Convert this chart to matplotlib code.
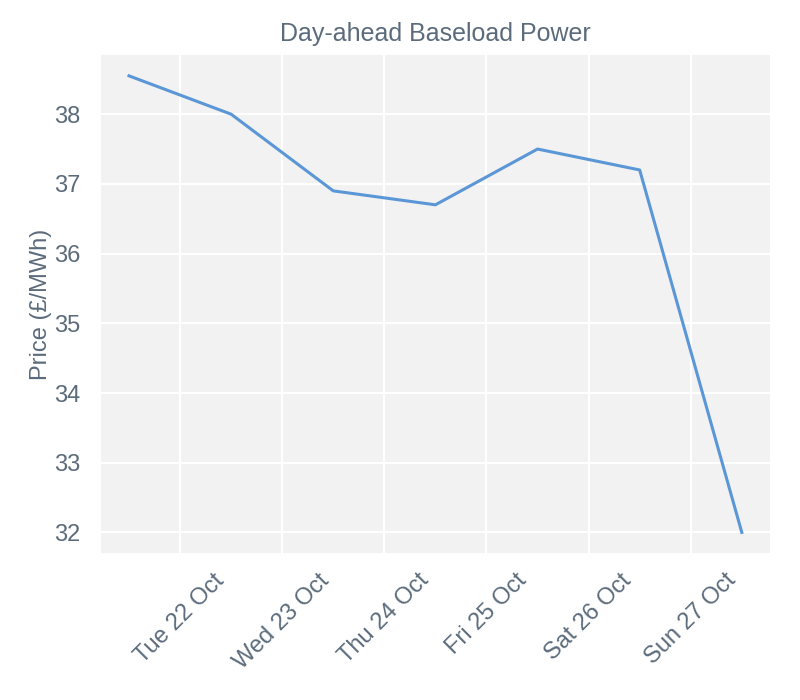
import datetime as dt
import matplotlib
matplotlib.use('Agg')
import matplotlib.pyplot as plt
import matplotlib.dates as mdates

# day-ahead prices, delivered mid-day
dates = [dt.datetime(2019, 10, d, 12) for d in range(21, 28)]
prices = [38.55, 38.0, 36.9, 36.7, 37.5, 37.2, 32.0]
tick_days = [dt.datetime(2019, 10, d) for d in range(22, 28)]

text_col = '#5b6b7b'
plt.rcParams['font.family'] = ['Liberation Sans', 'DejaVu Sans']

fig = plt.figure(figsize=(8, 7), dpi=100)
ax = fig.add_axes([0.126, 0.21, 0.8365, 0.711])
ax.set_facecolor('#f2f2f2')

ax.plot(dates, prices, color='#5b97d6', lw=2.2)
ax.margins(x=0.046, y=0.045)

ax.set_xticks(tick_days)
ax.xaxis.set_major_formatter(mdates.DateFormatter('%a %d %b'))
plt.setp(ax.get_xticklabels(), rotation=45, ha='center')

ax.grid(True, color='white', lw=1.5)
ax.set_axisbelow(True)
for s in ax.spines.values():
    s.set_visible(False)
ax.tick_params(length=0, labelsize=17, colors=text_col)
ax.tick_params(axis='y', pad=15)
ax.tick_params(axis='x', pad=12)

ax.set_ylabel('Price (£/MWh)', fontsize=17, color=text_col, labelpad=1.5)
ax.set_title('Day-ahead Baseload Power', fontsize=18, color=text_col, pad=10)

fig.savefig('out.png', dpi=100)
